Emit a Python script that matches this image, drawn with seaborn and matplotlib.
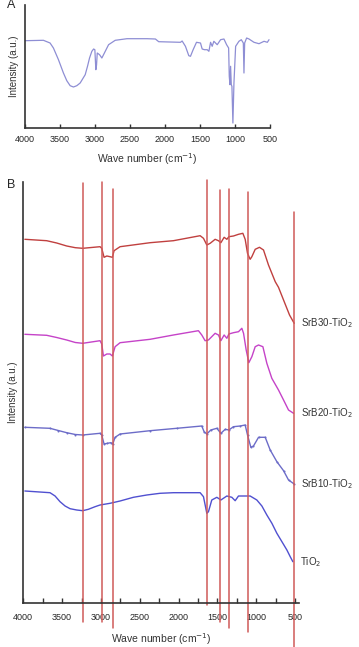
import numpy as np
import pandas as pd
import seaborn as sns
import matplotlib.pyplot as plt
from matplotlib.ticker import MultipleLocator

# panel A spectrum (wave number, intensity a.u.)
a_wn = [4000, 3737, 3642, 3594, 3522, 3451, 3403, 3355, 3308, 3260, 3212, 3140,
        3107, 3078, 3045, 3020, 3002,
        2988, 2978, 2968, 2935, 2902, 2878, 2806, 2711, 2543, 2257, 2137, 2090,
        1779, 1755, 1708, 1660, 1636, 1598, 1550, 1493, 1469, 1436, 1397, 1373,
        1349, 1326, 1302, 1254, 1206, 1158, 1120, 1091, 1082, 1072, 1063, 1053,
        1044, 1030, 1015, 991, 944, 910, 881, 872, 862, 834, 800, 729, 657, 585,
        538, 514]
a_int = [87.3, 87.7, 85, 80, 68.3, 55, 47.3, 42.3, 41, 42.3, 45, 53.3,
         61.7, 70, 76.7, 79, 78.3,
         58.3, 63, 75, 73.3, 70, 73.3, 83.3, 87.7, 89.3, 89.3, 89, 86.3,
         85.7, 87, 81.7, 72.3, 71.7, 78.3, 85.7, 85, 79, 78.3, 78.3, 76.7,
         85.7, 81.7, 86.7, 83.3, 88.3, 89, 83.3, 80, 51.7, 43.3, 61.7, 43.3,
         41.7, 5, 45, 81.7, 86.7, 88.3, 85, 55, 85, 90, 89, 85.7, 84.3, 86.7,
         85.7, 88.3]

# panel B spectra (stacked, intensity a.u.)
srb30_wn = [3980, 3699, 3570, 3441, 3330, 3235, 3012, 2990, 2960, 2925, 2883, 2853, 2831, 2754,
            2367, 2067, 1723, 1680, 1637, 1594, 1530, 1487, 1456, 1414, 1379, 1353,
            1294, 1229, 1173, 1143, 1113, 1079, 1057, 1014, 959, 907, 843, 756,
            714, 649, 572, 512]
srb30_int = [363.7, 362.3, 360, 357, 355.3, 354.7, 356.3, 354.7, 345.7, 347, 346.3, 345.7, 352.3, 356.3,
             360.3, 362.3, 367.3, 364.7, 358, 359.7, 363.7, 362.3, 360.3, 365.7, 363.7, 366.3,
             367, 368.7, 369.7, 363.7, 349.7, 343.7, 346.3, 353.7, 355.7, 353, 338, 321.3,
             315.7, 303, 288, 279.7]

srb20_wn = [3980, 3699, 3570, 3441, 3330, 3235, 3012, 2990, 2968, 2925, 2883, 2853, 2818, 2754,
            2367, 2067, 1745, 1702, 1659, 1616, 1530, 1487, 1456, 1414, 1379, 1353,
            1294, 1229, 1186, 1164, 1130, 1096, 1057, 1014, 971, 915, 864, 800,
            714, 649, 585, 520]
srb20_int = [268.7, 267.7, 265.5, 263, 260.5, 259.7, 262.3, 259, 247, 249, 249, 247, 256.3, 260.3,
             263.7, 268, 272.3, 268, 262.3, 263, 269.7, 268, 262.3, 268, 264.7, 269,
             270.3, 271.3, 274.7, 269.7, 253, 240.3, 246.3, 256.3, 258, 256.3, 239.7, 224.7,
             213, 203, 193, 189.7]

srb10_wn = [3980, 3656, 3550, 3441, 3330, 3235, 3012, 2990, 2960, 2917, 2874, 2848, 2818, 2754,
            2367, 2024, 1702, 1672, 1637, 1586, 1508, 1456, 1400, 1353, 1294, 1208,
            1143, 1113, 1070, 1036, 971, 885, 821, 735, 649, 585, 512]
srb10_int = [175.7, 174.7, 172.5, 170.3, 168.5, 168, 169.7, 168, 159, 159.7, 160.3, 159, 165.7, 169,
             172.3, 174.7, 177, 171.3, 169, 173, 174.7, 169.7, 173.7, 173, 176.3, 177,
             178, 168, 155.7, 157, 165.7, 165.7, 153, 141.3, 132.3, 123, 119]

tio2_wn = [3980, 3656, 3591, 3527, 3462, 3398, 3312, 3235, 3162, 3076, 3012, 2883,
           2754, 2582, 2410, 2239, 2067, 1723, 1680, 1637,
           1616, 1573, 1508, 1456, 1379, 1315, 1272, 1229, 1079, 993, 928, 864, 799,
           735, 670, 606, 563, 529]
tio2_int = [112, 110.3, 107, 101.3, 97, 94.3, 93, 92.3, 93.7, 96.3, 98, 99.7,
            102, 105.7, 108, 109.7, 110.3, 110.3, 106.3, 89.7,
            91.3, 103, 105.7, 103, 107, 105.7, 102.3, 107, 107, 103, 97, 88, 79.7,
            69.7, 61.3, 53, 46.3, 41.3]

sample_names = ["SrB30-TiO$_2$", "SrB20-TiO$_2$", "SrB10-TiO$_2$", "TiO$_2$"]
sample_colors = ["#c0403f", "#c543c8", "#6c6cc8", "#5050d0"]

# marked band positions (cm-1)
band_wn = [3235, 2990, 2848, 1637, 1465, 1353, 1104, 512]
band_top = [0.998, 0.999, 0.983, 1.005, 0.981, 0.983, 0.976, 0.929]
band_bottom = [-0.045, -0.045, -0.059, -0.005, -0.045, -0.059, -0.069, -0.12]

sns.set_style("ticks")
plt.rcParams['font.family'] = ['Liberation Sans', 'DejaVu Sans']

W, H = 359, 647
fig = plt.figure(figsize=(W / 100, H / 100), dpi=100)


def style_axis(ax):
    sns.despine(ax=ax)
    ax.spines['left'].set_color('#333333')
    ax.spines['bottom'].set_color('#333333')
    ax.spines['left'].set_linewidth(1.2)
    ax.spines['bottom'].set_linewidth(1.2)
    ax.set_yticks([])
    ax.xaxis.set_major_locator(MultipleLocator(500))
    ax.tick_params(axis='x', which='both', direction='in', length=3, width=1,
                   color='#333333', labelsize=6.5, pad=5)
    ax.set_ylabel("Intensity (a.u.)", fontsize=7, labelpad=4, color='#333333')
    ax.set_xlabel("Wave number (cm$^{-1}$)", fontsize=7.5, labelpad=5, color='#333333')


# panel A
axA = fig.add_axes([25 / W, 1 - 128 / H, 245 / W, 123 / H])
dfA = pd.DataFrame({"wn": a_wn, "int": a_int})
sns.lineplot(data=dfA, x="wn", y="int", ax=axA, color="#8e8ed4", linewidth=0.9,
             sort=False, estimator=None)
axA.set_xlim(4000, 500)
axA.set_ylim(0, 123)
style_axis(axA)
fig.text(7 / W, 1 - 5 / H, "A", fontsize=9, va='center', ha='left')

# panel B
axB = fig.add_axes([23.3 / W, 1 - 603 / H, 275.7 / W, 421 / H])
series = [(srb30_wn, srb30_int), (srb20_wn, srb20_int),
          (srb10_wn, srb10_int), (tio2_wn, tio2_int)]
for (wn, it), name, col in zip(series, sample_names, sample_colors):
    df = pd.DataFrame({"wn": wn, "int": it})
    kw = {}
    if name.startswith("SrB10"):
        kw = dict(marker='.', markersize=1.4, markeredgecolor=col, markevery=1)
    sns.lineplot(data=df, x="wn", y="int", ax=axB, color=col, linewidth=1.0,
                 sort=False, estimator=None, **kw)
    axB.annotate(name, xy=(wn[-1], it[-1]), xytext=(5, 0), textcoords='offset points',
                 va='center', ha='left', fontsize=7, color='#333333',
                 annotation_clip=False)

for wn, t, b in zip(band_wn, band_top, band_bottom):
    axB.axvline(wn, ymin=b, ymax=t, color="#d05a58", linewidth=1.1, clip_on=False)

axB.set_xlim(4000, 450)
axB.set_ylim(0, 421)
style_axis(axB)
axB.xaxis.set_minor_locator(MultipleLocator(250))
axB.tick_params(axis='x', which='both', length=3.5, pad=7)
axB.xaxis.labelpad = 7
fig.text(7 / W, 1 - 185 / H, "B", fontsize=9, va='center', ha='left')

fig.savefig("out.png", dpi=100)
